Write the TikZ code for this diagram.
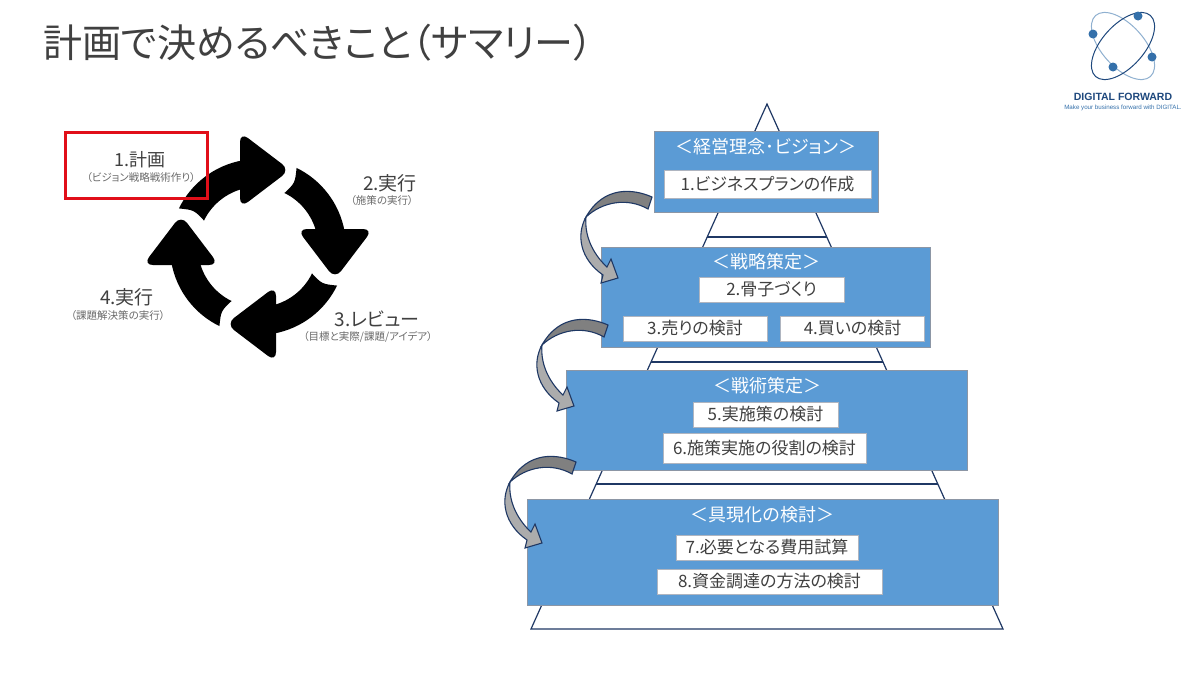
\documentclass[tikz,border=0pt]{standalone}
\usepackage{fontspec}
\usepackage{xcolor}
\setmainfont[RawFeature=+palt]{Noto Sans CJK JP}
\newfontfamily\logofont{Liberation Sans}
\usetikzlibrary{positioning,calc}
\definecolor{dText}{RGB}{64,64,64}
\definecolor{dSub}{RGB}{105,105,105}
\definecolor{dTier}{RGB}{91,155,213}
\definecolor{dEdge}{RGB}{140,150,165}
\definecolor{dNavy}{RGB}{31,56,100}
\definecolor{dRed}{RGB}{225,15,25}
\definecolor{dBand}{RGB}{128,128,128}
\definecolor{dBand2}{RGB}{172,172,172}
\definecolor{dLogo}{RGB}{30,72,125}
\definecolor{dBall}{RGB}{52,112,170}
\tikzset{
  tier/.style={rectangle, draw=dEdge, line width=0.5pt, fill=dTier, inner sep=0pt},
  item/.style={rectangle, draw=dEdge!70, line width=0.6pt, fill=white, inner sep=0pt,
               minimum height=25pt, text=dText, font=\fontsize{17}{18}\selectfont},
  head/.style={text=white, inner sep=0pt, font=\fontsize{18}{19}\selectfont},
  stage/.style={text=dText, inner sep=0pt, font=\fontsize{19}{20}\selectfont},
  note/.style={text=dSub, inner sep=0pt, font=\fontsize{10.5}{11}\selectfont},
  pyr/.style={draw=dNavy, line width=1.2pt},
  orbit/.style={line width=1pt},
  ball/.style={circle, fill=dBall, minimum size=9pt, inner sep=0pt},
  band/.style={draw=dNavy, line width=1.1pt},
}
% curved arrow between tiers, #1 is the upper corner of its tail
\newcommand{\TierArrow}[1]{%
  \begin{scope}[shift={#1}, yscale=-1]
    \draw[band, fill=dBand2] (-66,20) .. controls (-76,38) and (-72,62) .. (-49,78)
      -- (-51,86) -- (-34,81) -- (-41,62) -- (-45,70)
      .. controls (-56,60) and (-68,42) .. (-66,20) -- cycle;
    \draw[band, fill=dBand] (0,0) .. controls (-18,-8) and (-48,-12) .. (-66,20)
      .. controls (-50,5) and (-25,0) .. (-4,12) -- cycle;
  \end{scope}}
\begin{document}
\begin{tikzpicture}[x=1pt, y=1pt]
  \useasboundingbox[fill=white] (0,-675) rectangle (1200,0);

  \node[text=dText, inner sep=0pt, anchor=west, font=\fontsize{39}{40}\selectfont] (title)
    at (43,-43) {計画で決めるべきこと（サマリー）};

  % logo
  \coordinate (orb) at (1123,-46);
  \draw[orbit, draw=dBall!55] (orb) ellipse [x radius=41, y radius=21, rotate=-48];
  \draw[orbit, draw=dLogo] (orb) ellipse [x radius=41, y radius=21, rotate=48];
  \node[ball] (ballA) at (1138,-16) {};
  \node[ball] (ballB) at (1093,-34) {};
  \node[ball] (ballC) at (1152,-57) {};
  \node[ball] (ballD) at (1113,-67) {};
  \node[text=dLogo, inner sep=0pt, font=\logofont\bfseries\fontsize{10.5}{11}\selectfont] (brand)
    at (1123,-97) {DIGITAL FORWARD};
  \node[text=dBall, inner sep=0pt, font=\logofont\fontsize{6.2}{7}\selectfont] (slogan)
    at (1123,-108) {Make your business forward with DIGITAL.};

  % cycle
  \foreach \ang in {0,-90,-180,-270}{
    \begin{scope}[shift={(258,-247)}, rotate=\ang]
      \fill[black] (154:88) arc[start angle=154, end angle=100.5, radius=88]
        -- (-16,58) arc[start angle=105.4, end angle=154, radius=60]
        .. controls (-64,37) .. (154:88) -- cycle;
      \fill[black, rounded corners=10pt] (-18,77) -- (-18,115) -- (32,77) -- (-18,39) -- cycle;
    \end{scope}
  }
  \node[stage, font=\fontsize{18}{19}\selectfont] (planA) at (140,-160) {1.計画};
  \node[note] (planB) at (141,-178) {（ビジョン戦略戦術作り）};
  \node[stage] (execA) at (390,-183) {2.実行};
  \node[note] (execB) at (382,-201) {（施策の実行）};
  \node[stage] (revA) at (377,-319) {3.レビュー};
  \node[note] (revB) at (368,-337) {（目標と実際/課題/アイデア）};
  \node[stage] (doA) at (127,-297) {4.実行};
  \node[note] (doB) at (118,-316) {（課題解決策の実行）};
  \draw[draw=dRed, line width=3pt] (65,-132) rectangle (207,-198);

  % pyramid behind the tiers
  \coordinate (apex) at (767,-104);
  \coordinate (baseL) at (531,-629);
  \coordinate (baseR) at (1003,-629);
  \draw[pyr] (apex) -- (baseL) -- (baseR) -- cycle;
  \foreach \lv in {0.2533,0.4914,0.7238}{
    \draw[pyr] ($(apex)!\lv!(baseL)$) -- ($(apex)!\lv!(baseR)$);
  }

  \node[tier, minimum width=224pt, minimum height=81pt] (tierA) at (766,-171.5) {};
  \node[tier, minimum width=329pt, minimum height=100pt] (tierB) at (765.5,-297) {};
  \node[tier, minimum width=401pt, minimum height=100pt] (tierC) at (766.5,-420) {};
  \node[tier, minimum width=471pt, minimum height=106pt] (tierD) at (762.5,-552) {};

  \node[head] (headA) at (766,-147) {＜経営理念･ビジョン＞};
  \node[head] (headB) at (766,-262) {＜戦略策定＞};
  \node[head] (headC) at (767,-386) {＜戦術策定＞};
  \node[head] (headD) at (762.5,-515) {＜具現化の検討＞};

  \node[item, minimum width=207pt, minimum height=28pt] (itemA) at (767.5,-184) {1.ビジネスプランの作成};
  \node[item, minimum width=145pt] (itemB) at (771.5,-289.5) {2.骨子づくり};
  \node[item, minimum width=144pt] (itemC) at (695,-328.5) {3.売りの検討};
  \node[item, minimum width=144pt, right=13pt of itemC] (itemD) {4.買いの検討};
  \node[item, minimum width=145pt] (itemE) at (765.5,-414.5) {5.実施策の検討};
  \node[item, minimum width=203pt, minimum height=30pt] (itemF) at (764.5,-448) {6.施策実施の役割の検討};
  \node[item, minimum width=182pt] (itemG) at (767,-547.5) {7.必要となる費用試算};
  \node[item, minimum width=225pt] (itemH) at (769.5,-581.5) {8.資金調達の方法の検討};

  \TierArrow{(652,-197)}
  \TierArrow{(608,-325)}
  \TierArrow{(576,-462)}
\end{tikzpicture}
\end{document}
